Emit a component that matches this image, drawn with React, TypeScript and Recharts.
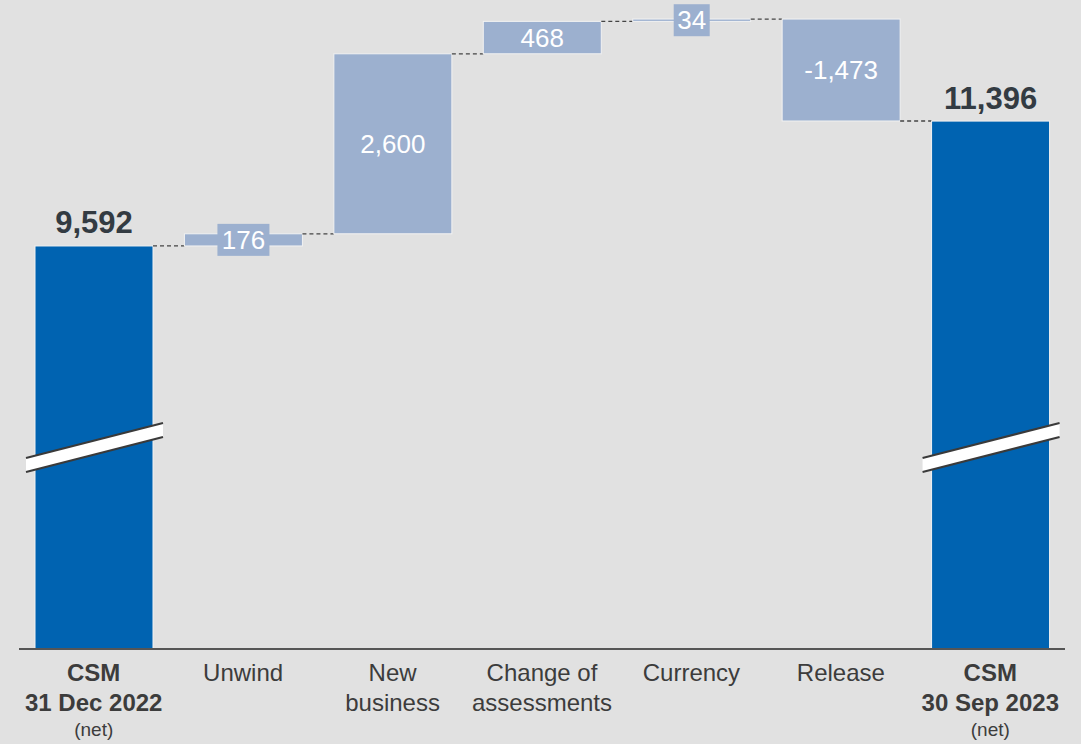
import React from "react";
import { BarChart, Bar, XAxis, YAxis, Cell, LabelList } from "recharts";

// CSM roll-forward (waterfall), values in the picture's units
const CATEGORIES = ["CSM 31 Dec 2022", "Unwind", "New business", "Change of assessments", "Currency", "Release", "CSM 30 Sep 2023"];
const VALUES = [9592, 176, 2600, 468, 34, -1473, 11396];
const KINDS = ["total", "delta", "delta", "delta", "delta", "delta", "total"];
const TICK_LINES: Record<string, string[]> = {
  "CSM 31 Dec 2022": ["CSM", "31 Dec 2022", "(net)"],
  Unwind: ["Unwind"],
  "New business": ["New", "business"],
  "Change of assessments": ["Change of", "assessments"],
  Currency: ["Currency"],
  Release: ["Release"],
  "CSM 30 Sep 2023": ["CSM", "30 Sep 2023", "(net)"],
};

// truncated value axis (break marks on the total bars)
const Y_MIN = 3770;
const Y_MAX = 13145;

const WIDTH = 1081;
const HEIGHT = 744;
const MARGIN = { top: 0, right: 16, left: 19, bottom: 0 };
const BAR_SIZE = 118;
const BAND = (WIDTH - MARGIN.left - MARGIN.right) / CATEGORIES.length;
const GAP = BAND - BAR_SIZE;

const TOTAL_COLOR = "#0063b1";
const DELTA_COLOR = "#9cb0cf";
const FONT = "'Liberation Sans', Arial, sans-serif";

const data = (() => {
  let cum = 0;
  return CATEGORIES.map((name, i) => {
    const v = VALUES[i];
    if (KINDS[i] === "total") {
      cum = v;
      return { name, value: v, kind: "total", range: [Y_MIN, v], endTop: true };
    }
    const start = cum;
    cum = cum + v;
    return {
      name,
      value: v,
      kind: "delta",
      range: [Math.min(start, cum), Math.max(start, cum)],
      endTop: v >= 0,
    };
  });
})();

function fmt(v: number) {
  return v.toLocaleString("en-US");
}

function WaterfallShape(props: any) {
  const { x, y, width, height, index, payload } = props;
  const isTotal = payload.kind === "total";
  const fill = isTotal ? TOTAL_COLOR : DELTA_COLOR;
  const bottom = y + height;
  const endY = payload.endTop ? y : bottom;
  return (
    <g>
      <rect x={x} y={y} width={width} height={Math.max(height, 1)} fill={fill} stroke="#f2f2f2" strokeWidth={1} />
      {index < data.length - 1 && (
        <line x1={x + width} x2={x + width + GAP} y1={endY} y2={endY} stroke="#444" strokeWidth={1.3} strokeDasharray="4 3" />
      )}
      {isTotal && (
        <g>
          <polygon
            points={`${x - 9},${bottom - 191} ${x + width + 10},${bottom - 226} ${x + width + 10},${bottom - 212} ${x - 9},${bottom - 177}`}
            fill="#ffffff"
          />
          <line x1={x - 9} y1={bottom - 191} x2={x + width + 10} y2={bottom - 226} stroke="#3a3a3a" strokeWidth={2} />
          <line x1={x - 9} y1={bottom - 177} x2={x + width + 10} y2={bottom - 212} stroke="#3a3a3a" strokeWidth={2} />
        </g>
      )}
    </g>
  );
}

function ValueLabel(props: any) {
  const { x, y, width, height, index } = props;
  const d = data[index];
  const cx = x + width / 2;
  if (d.kind === "total") {
    return (
      <text x={cx} y={y - 23} textAnchor="middle" dominantBaseline="central" fontFamily={FONT} fontSize={31} fontWeight="bold" fill="#333b42">
        {fmt(d.value)}
      </text>
    );
  }
  const text = fmt(d.value);
  const cy = y + height / 2;
  const boxW = text.length * 16 + 4;
  return (
    <g>
      {height < 32 && <rect x={cx - boxW / 2} y={cy - 16} width={boxW} height={32} fill={DELTA_COLOR} />}
      <text x={cx} y={cy} textAnchor="middle" dominantBaseline="central" fontFamily={FONT} fontSize={26} fill="#ffffff">
        {text}
      </text>
    </g>
  );
}

function CategoryTick(props: any) {
  const { x, y, payload } = props;
  const lines = TICK_LINES[payload.value] || [payload.value];
  const bold = lines.length === 3;
  return (
    <g>
      {lines.map((t, i) => {
        const small = t === "(net)";
        return (
          <text
            key={i}
            x={x}
            y={y + 15 + i * 30 - (small ? 3 : 0)}
            textAnchor="middle"
            dominantBaseline="central"
            fontFamily={FONT}
            fontSize={small ? 19 : 24}
            fontWeight={bold && !small ? "bold" : "normal"}
            fill="#3c3c3c"
          >
            {t}
          </text>
        );
      })}
    </g>
  );
}

export default function App() {
  return (
    <div style={{ position: "absolute", left: 0, top: 0, width: WIDTH, height: HEIGHT, background: "#e1e1e1" }}>
      <BarChart width={WIDTH} height={HEIGHT} data={data} margin={MARGIN} barSize={BAR_SIZE}>
        <XAxis
          dataKey="name"
          height={95}
          interval={0}
          tickLine={false}
          axisLine={{ stroke: "#555", strokeWidth: 2 }}
          tick={<CategoryTick />}
        />
        <YAxis hide domain={[Y_MIN, Y_MAX]} allowDataOverflow />
        <Bar dataKey="range" isAnimationActive={false} shape={<WaterfallShape />}>
          {data.map((d, i) => (
            <Cell key={i} fill={d.kind === "total" ? TOTAL_COLOR : DELTA_COLOR} />
          ))}
          <LabelList dataKey="value" content={<ValueLabel />} />
        </Bar>
      </BarChart>
    </div>
  );
}
